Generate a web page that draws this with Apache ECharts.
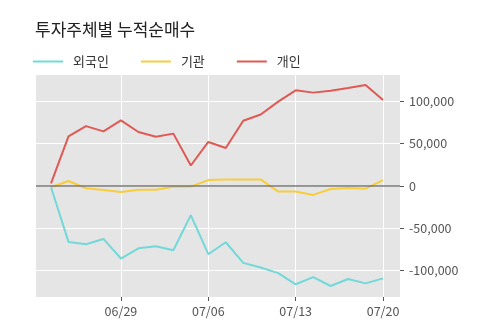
<!DOCTYPE html>
<html>
<head>
<meta charset="utf-8">
<script src="https://cdn.jsdelivr.net/npm/echarts@6/dist/echarts.min.js"></script>
<style>
html, body { margin: 0; padding: 0; background: #fff; }
#chart { width: 500px; height: 323px; }
</style>
</head>
<body>
<div id="chart"></div>
<script>
var dates = ['06/23', '06/24', '06/25', '06/26', '06/29', '06/30', '07/01', '07/02', '07/03', '07/06',
	'07/07', '07/08', '07/09', '07/10', '07/13', '07/14', '07/15', '07/16', '07/17', '07/20'];
var foreign = [-1500, -66000, -68800, -62500, -85600, -73500, -71100, -75800, -34400, -80500,
	-66400, -90700, -96100, -102800, -116000, -107500, -118000, -109800, -114900, -109000];
var institution = [-1500, 5900, -2700, -4700, -7000, -4300, -4300, -800, -800, 7000,
	7800, 7800, 7800, -6600, -6600, -10500, -3500, -2300, -3100, 7000];
var individual = [3200, 58600, 70700, 64500, 77400, 63700, 58200, 61800, 24200, 52000,
	44900, 77000, 84400, 99600, 112900, 110200, 112500, 115700, 119200, 101600];
var xTicks = [4, 9, 14, 19];
var yTicks = [-100000, -50000, 0, 50000, 100000];

function pairs(arr) {
	return arr.map(function (v, i) { return [i, v]; });
}

(function(){
	var myChart = echarts.init(document.getElementById('chart'));
	var lineSeries = function (name, color, data) {
		return {
			name: name,
			type: 'line',
			data: pairs(data),
			symbol: 'none',
			lineStyle: { color: color, width: 2 },
			itemStyle: { color: color },
			z: 3
		};
	};
	var option = {
		animation: false,
		title: {
			text: '투자주체별 누적순매수',
			left: 30,
			top: 16,
			textStyle: {
				fontFamily: 'Noto Sans CJK KR',
				fontSize: 17,
				fontWeight: 'normal',
				color: '#222'
			}
		},
		legend: {
			left: 28,
			top: 50,
			itemWidth: 30,
			itemHeight: 2,
			itemGap: 32,
			icon: 'rect',
			textStyle: {
				fontFamily: 'Noto Sans CJK KR',
				fontSize: 13,
				color: '#333',
				padding: [0, 0, 0, 5]
			},
			data: ['외국인', '기관', '개인']
		},
		grid: {
			left: 36,
			right: 100,
			top: 75,
			bottom: 26,
			show: true,
			backgroundColor: '#e5e5e5',
			borderWidth: 0
		},
		xAxis: {
			type: 'value',
			min: -0.86,
			max: 19.97,
			axisLine: { show: false, onZero: false },
			axisTick: {
				show: true,
				customValues: xTicks,
				length: 4,
				lineStyle: { color: '#555' }
			},
			axisLabel: {
				customValues: xTicks,
				color: '#555',
				fontFamily: 'Noto Sans CJK KR',
				fontSize: 12.5,
				margin: 8,
				formatter: function (v) { return dates[Math.round(v)]; }
			},
			splitLine: { show: true, lineStyle: { color: '#fff', width: 1 } }
		},
		yAxis: {
			type: 'value',
			position: 'right',
			min: -131000,
			max: 131000,
			axisLine: { show: false, onZero: false },
			axisTick: {
				show: true,
				customValues: yTicks,
				length: 4,
				lineStyle: { color: '#555' }
			},
			axisLabel: {
				customValues: yTicks,
				color: '#555',
				fontFamily: 'Noto Sans CJK KR',
				fontSize: 12.5,
				margin: 9,
				formatter: function (v) { return v.toLocaleString('en-US'); }
			},
			splitLine: { show: true, lineStyle: { color: '#fff', width: 1 } }
		},
		series: [
			lineSeries('외국인', '#72d8d8', foreign),
			lineSeries('기관', '#f7cd3c', institution),
			lineSeries('개인', '#df5a55', individual),
			{
				type: 'line',
				data: [],
				silent: true,
				markLine: {
					symbol: 'none',
					silent: true,
					label: { show: false },
					lineStyle: { color: '#777', type: 'solid', width: 1.5 },
					data: [{ yAxis: 0 }]
				},
				z: 2
			}
		]
	};
	myChart.setOption(option);
	window.addEventListener("resize", function() {
		myChart.resize();
	});
})();
</script>
</body>
</html>
